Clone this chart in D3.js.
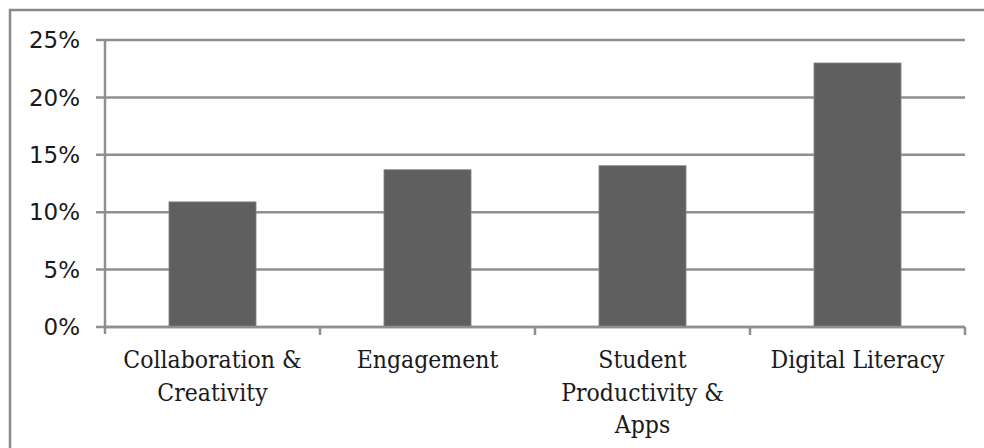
<!DOCTYPE html>
<html>
<head>
<meta charset="utf-8">
<script src="https://cdn.jsdelivr.net/npm/d3@7"></script>
<style>
  html, body { margin: 0; padding: 0; background: #fff; }
  svg { display: block; }
</style>
</head>
<body>
<svg id="chart" width="984" height="448"></svg>
<script>
const categories = [
  ["Collaboration &", "Creativity"],
  ["Engagement"],
  ["Student", "Productivity &", "Apps"],
  ["Digital Literacy"]
];
const values = [0.109, 0.137, 0.1405, 0.230];
const yTicks = [0, 0.05, 0.10, 0.15, 0.20, 0.25];

(function () {
const svg = d3.select("#chart");
const mLeft = 105, mRight = 965, mTop = 40, mBottom = 327;
const gridColor = "#8f8f8f";

// outer border
svg.append("rect")
  .attr("x", 10).attr("y", 10)
  .attr("width", 1000).attr("height", 500)
  .attr("fill", "none").attr("stroke", "#8a8a8a").attr("stroke-width", 2.5);

const x = d3.scaleBand()
  .domain(d3.range(categories.length))
  .range([mLeft, mRight])
  .paddingInner(0.595).paddingOuter(0.2975);
const xOuter = d3.scaleBand().domain(d3.range(categories.length)).range([mLeft, mRight]);

const y = d3.scaleLinear().domain([0, 0.25]).range([mBottom, mTop]);

// gridlines + y ticks
svg.append("g").selectAll("line")
  .data(yTicks)
  .join("line")
  .attr("x1", mLeft - 9).attr("x2", mRight)
  .attr("y1", d => y(d)).attr("y2", d => y(d))
  .attr("stroke", gridColor).attr("stroke-width", 2.5);

// bars
svg.append("g").selectAll("rect")
  .data(values)
  .join("rect")
  .attr("x", (d, i) => x(i))
  .attr("width", x.bandwidth())
  .attr("y", d => y(d))
  .attr("height", d => y(0) - y(d))
  .attr("fill", "#5f5f5f")
  .attr("stroke", "#8c8c8c").attr("stroke-width", 0.8);

// y axis line
svg.append("line")
  .attr("x1", mLeft).attr("x2", mLeft)
  .attr("y1", mTop).attr("y2", mBottom + 7)
  .attr("stroke", gridColor).attr("stroke-width", 2.5);

// x axis baseline
svg.append("line")
  .attr("x1", mLeft).attr("x2", mRight)
  .attr("y1", y(0)).attr("y2", y(0))
  .attr("stroke", gridColor).attr("stroke-width", 2.5);

// x ticks at category boundaries
const bounds = d3.range(categories.length).map(i => xOuter(i) + xOuter.bandwidth());
svg.append("g").selectAll("line")
  .data(bounds)
  .join("line")
  .attr("x1", d => d).attr("x2", d => d)
  .attr("y1", y(0)).attr("y2", y(0) + 8)
  .attr("stroke", gridColor).attr("stroke-width", 2.5);

// y labels
svg.append("g").selectAll("text")
  .data(yTicks)
  .join("text")
  .attr("x", 80)
  .attr("y", d => y(d))
  .attr("dy", "0.36em")
  .attr("text-anchor", "end")
  .attr("font-family", "DejaVu Sans, sans-serif")
  .attr("font-size", 23)
  .attr("fill", "#1a1a1a")
  .text(d => d3.format(".0%")(d));

// x labels
const lab = svg.append("g").selectAll("text")
  .data(categories)
  .join("text")
  .attr("text-anchor", "middle")
  .attr("font-family", "DejaVu Serif Condensed, DejaVu Serif, serif")
  .attr("font-stretch", "condensed")
  .attr("font-size", 24.5)
  .attr("fill", "#1a1a1a");
lab.each(function (d, i) {
  const t = d3.select(this);
  const cx = xOuter(i) + xOuter.bandwidth() / 2;
  d.forEach((line, j) => {
    t.append("tspan").attr("x", cx).attr("y", 368 + j * 32.5).text(line);
  });
});
})();
</script>
</body>
</html>
